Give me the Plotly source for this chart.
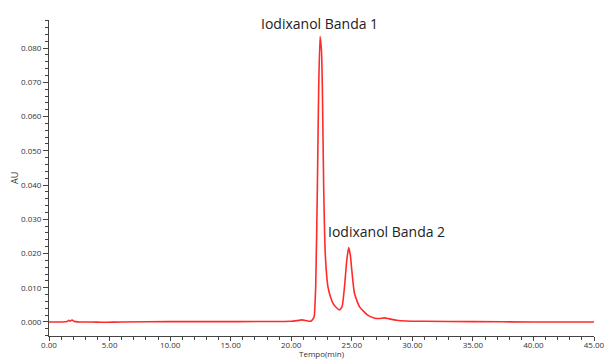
import plotly.graph_objects as go

# Chromatogram readings: retention time (min) and absorbance (AU)
tempo_min = [0.0, 1.0, 1.5, 1.65, 1.75, 1.85, 1.95, 2.05, 2.2, 2.5, 3.5, 4.5, 6.0, 10.0, 15.0, 20.0,
             20.5, 20.9, 21.2, 21.45, 21.65, 21.78, 21.89, 22.02, 22.16, 22.27, 22.38,
             22.5, 22.57, 22.68, 22.81, 23.03, 23.25, 23.44, 23.7, 23.99, 24.2, 24.4, 24.59,
             24.75, 24.88, 25.0, 25.22, 25.63, 26.31, 26.9, 27.3, 27.67, 28.1, 28.7, 29.5,
             31.0, 35.0, 40.0, 45.0]
absorbancia = [0.0, 0.0, 0.0001, 0.0005, 0.0002, 0.0005, 0.0005, 0.0002, 0.0001, 0.0, 0.0, -0.0001, 0.0, 0.0001, 0.0001, 0.0002,
               0.0004, 0.0006, 0.0004, 0.0002, 0.0003, 0.0008, 0.0015, 0.0103, 0.0395, 0.0687, 0.0834,
               0.0790, 0.0687, 0.0395, 0.0200, 0.0103, 0.0072, 0.0055, 0.0043, 0.0035, 0.0045, 0.0103, 0.0181,
               0.0217, 0.0195, 0.0152, 0.0084, 0.0045, 0.0020, 0.0011, 0.0010, 0.0012, 0.0009, 0.0005, 0.0003,
               0.0002, 0.0001, 0.0, 0.0]

peak_labels = ["Iodixanol Banda 1", "Iodixanol Banda 2"]

fig = go.Figure()
fig.add_trace(go.Scatter(
    x=tempo_min, y=absorbancia, mode="lines",
    line=dict(color="#ff2b2b", width=1.6, shape="spline", smoothing=0.5),
    hoverinfo="skip", showlegend=False,
))

tick_font = dict(family="Open Sans", size=8, color="#333333")

fig.update_xaxes(
    range=[0, 45], tickmode="linear", tick0=0, dtick=5, tickformat=".2f",
    ticks="outside", ticklen=4, tickcolor="#444444", tickwidth=1,
    minor=dict(ticks="outside", dtick=1, ticklen=3, tickcolor="#444444"),
    showline=True, linecolor="#444444", linewidth=1, showgrid=False, zeroline=False,
    tickfont=tick_font, ticklabelstandoff=-3, ticklabeloverflow="allow", automargin=False,
)
fig.update_yaxes(
    range=[-0.0041, 0.0882], tickmode="linear", tick0=0, dtick=0.01, tickformat=".3f",
    ticks="outside", ticklen=5, tickcolor="#444444", tickwidth=1,
    minor=dict(ticks="outside", dtick=0.002, ticklen=3, tickcolor="#444444"),
    showline=True, linecolor="#444444", linewidth=1, showgrid=False, zeroline=False,
    tickfont=tick_font, automargin=False,
)

fig.add_annotation(x=22.3, y=0.0882, xref="x", yref="y", text=peak_labels[0],
                   showarrow=False, font=dict(family="Open Sans", size=14, color="#222222"),
                   yanchor="middle", xanchor="center", yshift=-3)
fig.add_annotation(x=27.87, y=0.0263, xref="x", yref="y", text=peak_labels[1],
                   showarrow=False, font=dict(family="Open Sans", size=14, color="#222222"),
                   yanchor="middle", xanchor="center")
fig.add_annotation(x=0.5, y=0, xref="paper", yref="paper", text="Tempo(min)",
                   showarrow=False, font=dict(family="Open Sans", size=8, color="#333333"),
                   yanchor="bottom", xanchor="center", yshift=-25)
fig.add_annotation(x=0, y=0.5, xref="paper", yref="paper", text="AU", textangle=-90,
                   showarrow=False, font=dict(family="Open Sans", size=9, color="#333333"),
                   xanchor="center", yanchor="middle", xshift=-35)

fig.update_layout(
    width=606, height=361,
    margin=dict(l=49, r=12, t=20, b=25),
    paper_bgcolor="white", plot_bgcolor="white",
)

fig.write_html("out.html")
